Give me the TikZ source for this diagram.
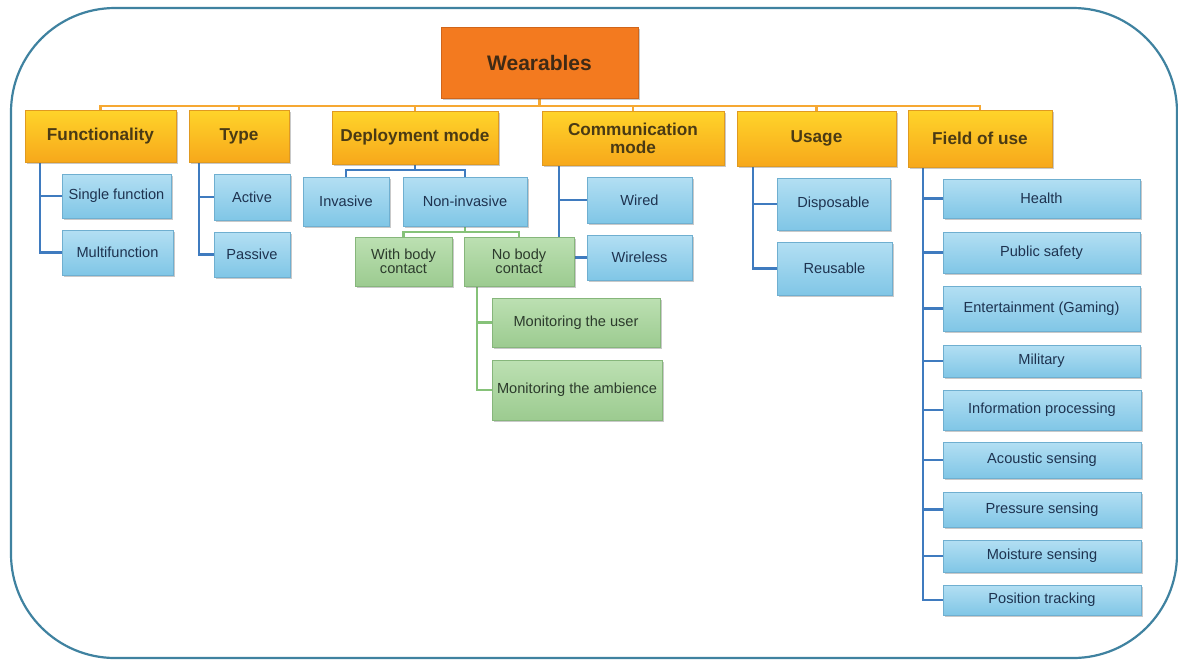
\documentclass[tikz,border=0pt]{standalone}
\usepackage{fontspec}
\setmainfont{Liberation Sans}
\usetikzlibrary{shadows,calc}
\pgfdeclarelayer{background}
\pgfsetlayers{background,main}
\definecolor{worange}{HTML}{F37A1F}
\definecolor{worangeb}{HTML}{D0651A}
\definecolor{wtext}{HTML}{3F2A15}
\definecolor{caty1}{HTML}{FFD42A}
\definecolor{caty2}{HTML}{F7A81B}
\definecolor{catborder}{HTML}{E09A20}
\definecolor{cattext}{HTML}{4A3A14}
\definecolor{blue1}{HTML}{B3DFF3}
\definecolor{blue2}{HTML}{80C6E6}
\definecolor{blueborder}{HTML}{6FAFD0}
\definecolor{bluetext}{HTML}{1E3350}
\definecolor{green1}{HTML}{BCE0B2}
\definecolor{green2}{HTML}{9CCB90}
\definecolor{greenborder}{HTML}{86B67B}
\definecolor{greentext}{HTML}{2C3B2C}
\definecolor{lineblue}{HTML}{3F7BBF}
\definecolor{lineorange}{HTML}{F6A832}
\definecolor{linegreen}{HTML}{86C279}
\definecolor{framec}{HTML}{3F82A0}
% box from pixel corners: style, name, x1, y1, x2, y2, text
\newcommand\bxn[7]{\node[#1, minimum width={(#5-#3)*0.5pt}, minimum height={(#6-#4)*0.5pt}]
  (#2) at ({(#3+#5)/2},{(#4+#6)/2}) {#7};}
\begin{document}
\begin{tikzpicture}[x=0.5pt,y=-0.5pt,
  base/.style={inner sep=0pt, outer sep=0pt, align=center, line width=0.4pt,
    drop shadow={shadow xshift=0.9pt, shadow yshift=-0.9pt, opacity=0.35, fill=black!60}},
  topbox/.style={base, draw=worangeb, fill=worange, text=wtext,
    font=\bfseries\fontsize{10.5}{12}\selectfont},
  catbox/.style={base, draw=catborder, top color=caty1, bottom color=caty2, text=cattext,
    font=\bfseries\fontsize{8.6}{9}\selectfont},
  bluebox/.style={base, draw=blueborder, top color=blue1, bottom color=blue2, text=bluetext,
    font=\fontsize{7.3}{7.2}\selectfont},
  greenbox/.style={base, draw=greenborder, top color=green1, bottom color=green2, text=greentext,
    font=\fontsize{7.3}{7.2}\selectfont},
  bline/.style={draw=lineblue, line width=1.4pt},
  oline/.style={draw=lineorange, line width=1.2pt},
  gline/.style={draw=linegreen, line width=1.4pt},
  frame/.style={draw=framec, line width=1.1pt, rounded corners=52pt}]
\useasboundingbox (0,0) rectangle (1178,660);
% top
\bxn{topbox}{W}{441}{27}{638}{98}{Wearables}
% categories
\bxn{catbox}{F1}{25}{110}{176}{162}{Functionality}
\bxn{catbox}{F2}{189}{110}{289}{162}{Type}
\bxn{catbox}{F3}{332}{111}{498}{164}{Deployment mode}
\bxn{catbox}{F4}{542}{111}{724}{165}{Communication\\mode}
\bxn{catbox}{F5}{737}{111}{896}{166}{Usage}
\bxn{catbox}{F6}{908}{110}{1052}{167}{Field of use}
% functionality
\bxn{bluebox}{SF}{62}{174}{171}{218}{Single function}
\bxn{bluebox}{MF}{62}{230}{173}{275}{Multifunction}
% type
\bxn{bluebox}{AC}{214}{174}{290}{220}{Active}
\bxn{bluebox}{PA}{214}{232}{290}{277}{Passive}
% deployment
\bxn{bluebox}{IN}{303}{177}{389}{226}{Invasive}
\bxn{bluebox}{NI}{403}{177}{527}{226}{Non-invasive}
\bxn{greenbox}{WB}{355}{237}{452}{286}{With body\\contact}
\bxn{greenbox}{NB}{464}{237}{574}{286}{No body\\contact}
\bxn{greenbox}{MU}{492}{298}{660}{347}{Monitoring the user}
\bxn{greenbox}{MA}{492}{360}{662}{420}{Monitoring the ambience}
% communication
\bxn{bluebox}{WI}{587}{177}{692}{223}{Wired}
\bxn{bluebox}{WL}{587}{235}{692}{280}{Wireless}
% usage
\bxn{bluebox}{DI}{777}{178}{890}{230}{Disposable}
\bxn{bluebox}{RE}{777}{242}{892}{295}{Reusable}
% field of use
\bxn{bluebox}{U1}{943}{179}{1140}{218}{Health}
\bxn{bluebox}{U2}{943}{232}{1140}{273}{Public safety}
\bxn{bluebox}{U3}{943}{286}{1140}{331}{Entertainment (Gaming)}
\bxn{bluebox}{U4}{943}{345}{1140}{377}{Military}
\bxn{bluebox}{U5}{943}{390}{1141}{430}{Information processing}
\bxn{bluebox}{U6}{943}{442}{1141}{478}{Acoustic sensing}
\bxn{bluebox}{U7}{943}{492}{1141}{527}{Pressure sensing}
\bxn{bluebox}{U8}{943}{540}{1141}{572}{Moisture sensing}
\bxn{bluebox}{U9}{943}{585}{1141}{615}{Position tracking}
% coordinates
\coordinate (bus) at (0,106);
\coordinate (br1) at (0,170);
\coordinate (br2) at (0,232);
\coordinate (t1) at ([xshift=7.5pt]F1.south west);
\coordinate (t2) at ([xshift=5pt]F2.south west);
\coordinate (t4) at ([xshift=8.5pt]F4.south west);
\coordinate (t5) at ([xshift=8pt]F5.south west);
\coordinate (t6) at ([xshift=7.5pt]F6.south west);
\coordinate (tg) at ([xshift=6.5pt]NB.south west);
\begin{pgfonlayer}{background}
\fill[white] (0,0) rectangle (1178,660);
\draw[frame] (11,8) rectangle (1177,658);
% orange bus
\draw[oline] (W.south) -- (W.south |- bus);
\draw[oline] (F1.north) -- (F1.north |- bus) -- (F6.north |- bus) -- (F6.north);
\foreach \n in {F2,F3,F4,F5} \draw[oline] (\n.north) -- (\n.north |- bus);
% functionality
\draw[bline] (t1) |- (MF.west);
\draw[bline] (SF.west) -- (SF.west -| t1);
% type
\draw[bline] (t2) |- (PA.west);
\draw[bline] (AC.west) -- (AC.west -| t2);
% deployment
\draw[bline] (F3.south) -- (F3.south |- br1);
\draw[bline] (IN.north) -- (IN.north |- br1) -- (NI.north |- br1) -- (NI.north);
\draw[gline] (NI.south) -- (NI.south |- br2);
\draw[gline] (WB.north) -- (WB.north |- br2) -- (NB.north |- br2) -- (NB.north);
\draw[gline] (tg) |- (MA.west);
\draw[gline] (MU.west) -- (MU.west -| tg);
% communication
\draw[bline] (t4) |- (WL.west);
\draw[bline] (WI.west) -- (WI.west -| t4);
% usage
\draw[bline] (t5) |- (RE.west);
\draw[bline] (DI.west) -- (DI.west -| t5);
% field of use
\draw[bline] (t6) |- (U9.west);
\foreach \n in {U1,U2,U3,U4,U5,U6,U7,U8} \draw[bline] (\n.west) -- (\n.west -| t6);
\end{pgfonlayer}
\end{tikzpicture}
\end{document}
